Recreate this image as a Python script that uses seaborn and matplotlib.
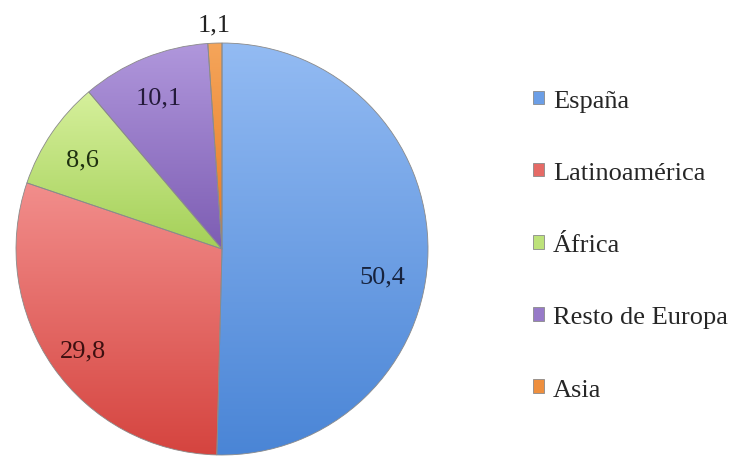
import numpy as np
import matplotlib
matplotlib.use("Agg")
import matplotlib.pyplot as plt
import seaborn as sns
from matplotlib.colors import LinearSegmentedColormap

categories = ["España", "Latinoamérica", "África", "Resto de Europa", "Asia"]
values = [50.4, 29.8, 8.6, 10.1, 1.1]

top_colors = ["#93bbf3", "#f28e8c", "#d6f09c", "#b097dc", "#f5a55a"]
bottom_colors = ["#4a85d6", "#d5443f", "#a4d058", "#7d5db3", "#e57a25"]
mid_colors = ["#6b9ee6", "#e56a66", "#bde27a", "#977ac8", "#ee8f3e"]
label_colors = ["#17233d", "#3d1010", "#1f3010", "#241a3a", "#222222"]

sns.set_theme(style="white")
plt.rcParams["font.family"] = ["Liberation Serif", "DejaVu Serif"]

fig = plt.figure(figsize=(7.29, 4.6), dpi=100)
cx, cy, r = 222, 250, 206
W, H = 729, 460
ax = fig.add_axes([(cx - r) / W, (H - cy - r) / H, 2 * r / W, 2 * r / H])

wedges, texts, autotexts = ax.pie(
    values,
    startangle=90,
    counterclock=False,
    colors=mid_colors,
    autopct=lambda p: f"{p:.1f}".replace(".", ","),
    pctdistance=0.82,
    wedgeprops=dict(edgecolor="#8a8a8a", linewidth=0.6),
    textprops=dict(fontsize=19),
)

leg = ax.legend(
    wedges, categories,
    loc="upper left",
    bbox_to_anchor=(533 / W, 1 - 91 / H),
    bbox_transform=fig.transFigure,
    frameon=False,
    fontsize=19,
    handlelength=0.4,
    handleheight=0.4,
    handletextpad=0.35,
    labelspacing=1.9,
    borderpad=0,
    borderaxespad=0,
)

grad = np.linspace(0, 1, 256).reshape(-1, 1)
for w, tc, bc in zip(wedges, top_colors, bottom_colors):
    ext = w.get_path().get_extents()
    cmap = LinearSegmentedColormap.from_list("g", [tc, bc])
    im = ax.imshow(grad, extent=(ext.x0, ext.x1, ext.y0, ext.y1), origin="upper",
                   cmap=cmap, aspect="auto", zorder=2, interpolation="bilinear")
    im.set_clip_path(w)
    w.set_facecolor("none")
    w.set_zorder(3)

for t, c in zip(autotexts, label_colors):
    t.set_color(c)
    t.set_zorder(4)
    x0, y0 = t.get_position()
    t.set_position((x0, y0 - 0.025))

# Asia label outside the pie
wa = wedges[4]
ang = np.deg2rad((wa.theta1 + wa.theta2) / 2)
autotexts[4].set_position((1.09 * np.cos(ang), 1.09 * np.sin(ang)))
# España label placed a little lower/left, as in reference
x0, y0 = autotexts[0].get_position()
autotexts[0].set_position((x0 - 0.04, y0 - 0.1))

ax.set_xlim(-1, 1)
ax.set_ylim(-1, 1)
ax.set_aspect("equal")
ax.axis("off")

fig.savefig("out.png", dpi=100)
